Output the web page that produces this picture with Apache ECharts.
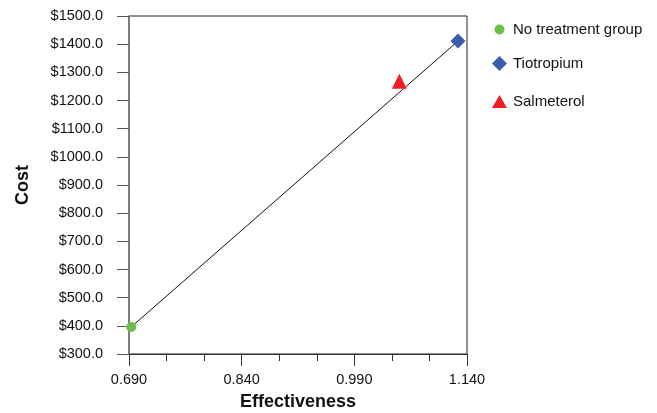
<!DOCTYPE html>
<html>
<head>
<meta charset="utf-8">
<script src="https://cdn.jsdelivr.net/npm/echarts@6/dist/echarts.min.js"></script>
<style>html,body{margin:0;padding:0;background:#fff}#c{width:657px;height:413px}</style>
</head>
<body>
<div id="c"></div>
<script>
const seriesNames = ['No treatment group', 'Tiotropium', 'Salmeterol'];
const effectiveness = [0.693, 1.128, 1.050];
const cost = [396, 1411, 1268];
const frontierIdx = [0, 1];
const xMajorTicks = [0.690, 0.840, 0.990, 1.140];
const xMinorTicks = [0.740, 0.790, 0.890, 0.940, 1.040, 1.090];
const yMin = 300, yMax = 1500, yStep = 100;

const colors = ['#6cc04a', '#3b5bab', '#ee1c25'];
const symbols = ['circle', 'diamond', 'triangle'];
const symbolSizes = [10, [15, 15], [15, 15]];
const legendSizes = [[10, 10], [15, 15], [15, 13]];
const legendTops = [17, 51, 89];
const font = 'Liberation Sans, Arial, sans-serif';

const chart = echarts.init(document.getElementById('c'));
const series = [{
  name: 'frontier',
  type: 'line',
  xAxisIndex: 0,
  data: frontierIdx.map(i => [effectiveness[i], cost[i]]),
  symbol: 'none',
  lineStyle: {color: '#111', width: 1},
  silent: true,
  z: 1
}];
seriesNames.forEach((n, i) => {
  series.push({
    name: n,
    type: 'scatter',
    xAxisIndex: 0,
    data: [[effectiveness[i], cost[i]]],
    symbol: symbols[i],
    symbolSize: symbolSizes[i],
    itemStyle: {color: colors[i], opacity: 1},
    z: 3
  });
});
const legends = seriesNames.map((n, i) => ({
  data: [n],
  orient: 'vertical',
  left: 494.5 - legendSizes[i][0] / 2,
  top: legendTops[i],
  itemWidth: legendSizes[i][0],
  itemHeight: legendSizes[i][1],
  selectedMode: false,
  textStyle: {fontFamily: font, fontSize: 15, color: '#111', padding: [0, 0, 0, Math.max(0, 513 - (494.5 + legendSizes[i][0] / 2) - 10)]}
}));

chart.setOption({
  animation: false,
  textStyle: {fontFamily: font},
  legend: legends,
  grid: {left: 129, right: 190, top: 16, bottom: 59, show: true, borderColor: '#222', borderWidth: 1, containLabel: false, outerBoundsMode: 'none'},
  xAxis: [{
    type: 'value',
    min: 0.69, max: 1.14,
    name: 'Effectiveness',
    nameLocation: 'middle',
    nameGap: 39.5,
    nameTextStyle: {fontFamily: font, fontSize: 18, fontWeight: 'bold', color: '#111'},
    axisLine: {lineStyle: {color: '#333', width: 1}},
    axisTick: {show: true, length: 12, customValues: xMajorTicks, lineStyle: {color: '#333'}},
    axisLabel: {customValues: xMajorTicks, formatter: v => v.toFixed(3), fontSize: 14.5, color: '#111', margin: 18, fontFamily: font},
    splitLine: {show: false}
  }, {
    type: 'value',
    min: 0.69, max: 1.14,
    position: 'bottom',
    axisLine: {show: false},
    axisTick: {show: true, length: 7, customValues: xMinorTicks, lineStyle: {color: '#333'}},
    axisLabel: {show: false},
    splitLine: {show: false}
  }],
  yAxis: {
    type: 'value',
    min: yMin, max: yMax, interval: yStep,
    name: 'Cost',
    nameLocation: 'middle',
    nameGap: 97,
    nameTextStyle: {fontFamily: font, fontSize: 18, fontWeight: 'bold', color: '#111'},
    axisLine: {show: true, lineStyle: {color: '#777', width: 1.5}},
    axisTick: {show: true, length: 12, lineStyle: {color: '#555'}},
    axisLabel: {formatter: v => '$' + v.toFixed(1), fontSize: 14.5, color: '#111', margin: 26, fontFamily: font},
    splitLine: {show: false}
  },
  series: series
});
</script>
</body>
</html>
